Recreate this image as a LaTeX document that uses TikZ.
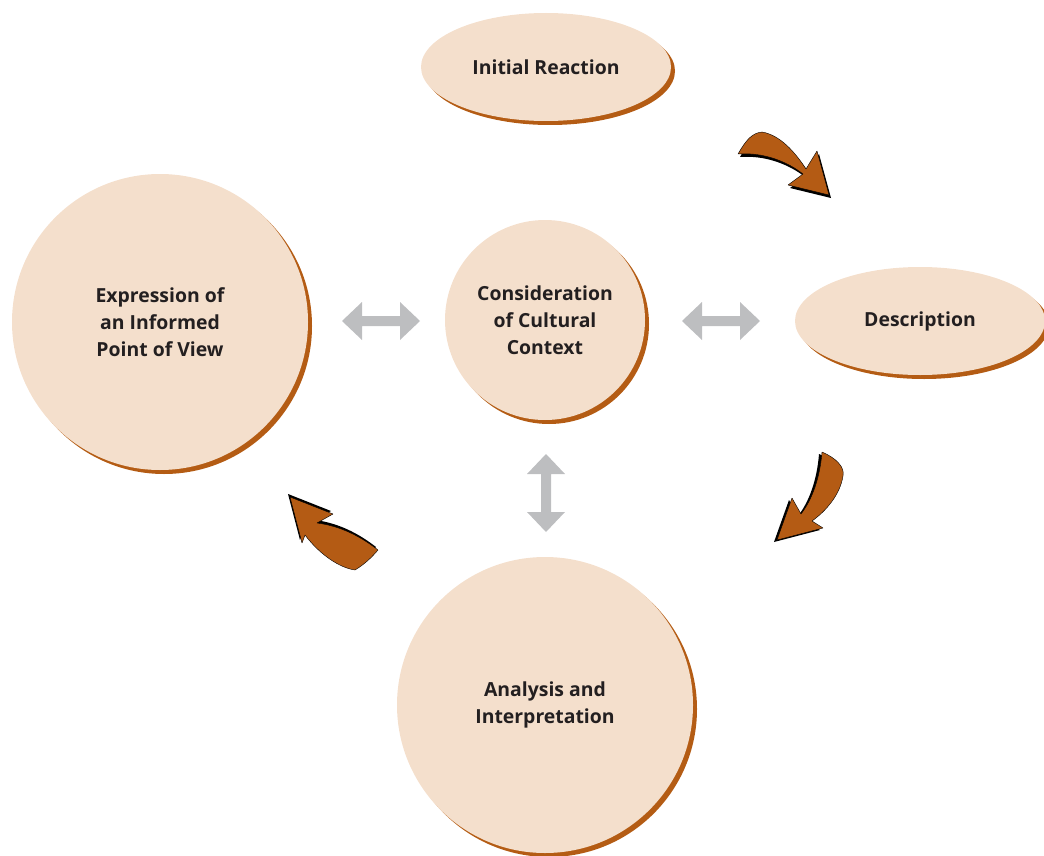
\documentclass[tikz,border=0pt]{standalone}
\usepackage{fontspec}
\setmainfont{Open Sans}
\usetikzlibrary{shapes.geometric,shadows}
\definecolor{bubble}{HTML}{F4DFCC}
\definecolor{bshadow}{HTML}{B45C14}
\definecolor{arrowc}{HTML}{B45B14}
\definecolor{grayc}{HTML}{BDBEC0}
\definecolor{txt}{HTML}{231F20}
\tikzset{
  bubbleshape/.style={fill=bubble, draw=none, text=txt, align=center,
    font=\bfseries\fontsize{19.4}{27}\selectfont, inner sep=0pt,
    drop shadow={shadow xshift=4pt, shadow yshift=-4pt, fill=bshadow, opacity=1}},
  ellbubble/.style={bubbleshape, ellipse, minimum width=250pt, minimum height=108pt},
  circbubble/.style={bubbleshape, circle},
  curvearrow/.style={fill=arrowc, draw=black, line width=0.4pt, line join=round},
  curveshadow/.style={fill=black},
  grayarrow/.style={fill=grayc},
  dblarrow/.pic={\fill[grayarrow] (-39,0) -- (-19,-19) -- (-19,-5) -- (19,-5) -- (19,-19) -- (39,0) -- (19,19) -- (19,5) -- (-19,5) -- (-19,19) -- cycle;}
}
\begin{document}
\begin{tikzpicture}[x=1pt,y=-1pt]
\useasboundingbox (0,0) rectangle (1044,856);
\clip (0,0) rectangle (1044,856);
% bubbles
\node[ellbubble] (init) at (546,67) {Initial Reaction};
\node[ellbubble] (desc) at (920,321) {Description};
\node[circbubble, minimum size=200pt] (cons) at (545,320) {Consideration\\of Cultural\\Context};
\node[circbubble, minimum size=296pt] (expr) at (160,322) {Expression of\\an Informed\\Point of View};
\node[circbubble, minimum size=296pt] (anal) at (545,705) {Analysis and\\Interpretation};
% gray double arrows
\coordinate (g1) at (381,321);
\coordinate (g2) at (721,321);
\coordinate (g3) at (546,493);
\pic at (g1) {dblarrow};
\pic at (g2) {dblarrow};
\pic[rotate=90] at (g3) {dblarrow};
% curved arrow 1: Initial Reaction -> Description
\def\arrowone{(738,154) .. controls (746,140) and (752,133) .. (762,132) .. controls (780,135) and (795,152) .. (806,169) -- (817,151) -- (829,195) -- (788,185) -- (803,174) .. controls (788,162) and (764,152) .. (738,154) -- cycle}
\fill[curveshadow, shift={(2,3)}] \arrowone;
\draw[curvearrow] \arrowone;
% curved arrow 2: Description -> Analysis
\def\arrowtwo{(822,452) .. controls (836,458) and (845,467) .. (843,476) .. controls (840,495) and (826,511) .. (812,521) -- (823,528) -- (777,540) -- (792,498) -- (801,514) .. controls (812,500) and (820,478) .. (822,452) -- cycle}
\fill[curveshadow, shift={(-3,2)}] \arrowtwo;
\draw[curvearrow] \arrowtwo;
% curved arrow 3: Analysis -> Expression
\def\arrowthree{(378,550) .. controls (360,536) and (340,526) .. (317,523) -- (333,514) -- (290,497) -- (302,543) -- (305,535) .. controls (320,555) and (340,568) .. (355,570) .. controls (365,564) and (372,557) .. (378,550) -- cycle}
\fill[curveshadow, shift={(-2,-3)}] \arrowthree;
\draw[curvearrow] \arrowthree;
\end{tikzpicture}
\end{document}
